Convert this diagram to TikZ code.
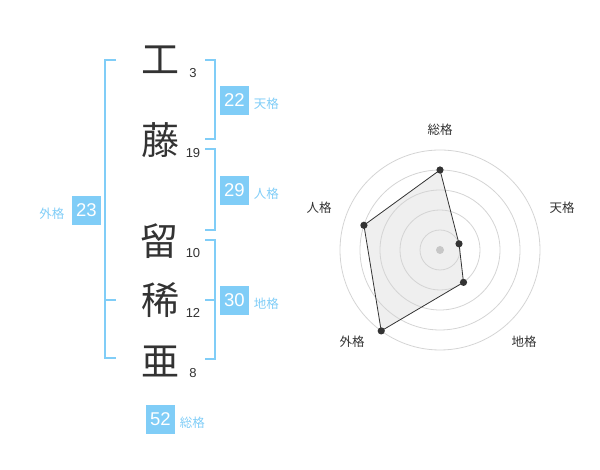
\documentclass[tikz,border=0pt]{standalone}
\usepackage{fontspec}
\setmainfont{Liberation Sans}
\newfontfamily\jp{Noto Sans CJK JP}
\usetikzlibrary{calc}
\definecolor{kakublue}{HTML}{80CDF7}
\definecolor{inkgray}{HTML}{333333}
\definecolor{ringgray}{HTML}{D4D4D4}
\definecolor{areagray}{HTML}{EFEFEF}
\def\kanji#1(#2)#3{\node[text=inkgray, inner sep=0, font=\jp\fontsize{38}{38}\selectfont] (#1) at (#2) {#3};}
\def\kakusu#1(#2)#3{\node[text=inkgray, inner sep=0, font=\fontsize{13}{13}\selectfont] (#1) at (#2) {#3};}
\def\kakubox#1(#2)#3#4{\node[fill=kakublue, text=white, minimum size=29, inner sep=0, font=\fontsize{18.5}{18.5}\selectfont] (#1) at (#2) {#3};
	\node[anchor=west, text=kakublue, inner sep=0, font=\jp\fontsize{12.5}{12.5}\selectfont] (#1-label) at ($(#1.east)+(4.5,-3.5)$) {#4};}

\begin{document}
\begin{tikzpicture}[x=1pt, y=1pt]
			%%%%% START %%%%%
			\useasboundingbox (0, 0) rectangle (600, 470);
			
			\kanji{k1}(160, 410.5){工}
			\kanji{k2}(160, 329.5){藤}
			\kanji{k3}(159, 229){留}
			\kanji{k4}(160, 169.5){稀}
			\kanji{k5}(160, 109){亜}
			
			\kakusu{n1}(193, 397.2){3}
			\kakusu{n2}(193, 317.3){19}
			\kakusu{n3}(193, 217.3){10}
			\kakusu{n4}(193, 157.3){12}
			\kakusu{n5}(193, 97.3){8}
			
			\draw[line width=2, color=kakublue] (116, 410) -- (105, 410) -- (105, 112) -- (116, 112);
			\draw[line width=2, color=kakublue] (105, 170) -- (116, 170);
			
			\draw[line width=2, color=kakublue] (205, 410) -- (215, 410) -- (215, 330.7) -- (205, 330.7);
			\draw[line width=2, color=kakublue] (205, 321) -- (215, 321) -- (215, 240) -- (205, 240);
			\draw[line width=2, color=kakublue] (205, 230) -- (215, 230) -- (215, 111) -- (205, 111);
			\draw[line width=2, color=kakublue] (205, 170) -- (215, 170);
			
			\kakubox{ten}(234.5, 369.5){22}{天格}
			\kakubox{jin}(234.5, 279.5){29}{人格}
			\kakubox{chi}(234.5, 169.5){30}{地格}
			\kakubox{sou}(160.5, 50.5){52}{総格}
			\node[fill=kakublue, text=white, minimum size=29, inner sep=0, font=\fontsize{18.5}{18.5}\selectfont] (gai) at (86.3, 259.5) {23};
			\node[anchor=east, text=kakublue, inner sep=0, font=\jp\fontsize{12.5}{12.5}\selectfont] (gai-label) at ($(gai.west)+(-7,-3)$) {外格};
			
			%%%%% RADAR %%%%%
			\coordinate (c) at (440, 220);
			\coordinate (p-sou) at ($(c)+(90:80)$);
			\coordinate (p-ten) at ($(c)+(18:20)$);
			\coordinate (p-chi) at ($(c)+(-54:40)$);
			\coordinate (p-gai) at ($(c)+(-126:100)$);
			\coordinate (p-jin) at ($(c)+(162:80)$);
			
			\fill[areagray] (p-sou) -- (p-ten) -- (p-chi) -- (p-gai) -- (p-jin) -- cycle;
			\foreach \r in {20, 40, ..., 100}
				\draw[line width=0.8, color=ringgray] (c) circle (\r);
			\fill[color=black!22] (c) circle (4);
			\draw[line width=0.8, color=inkgray] (p-sou) -- (p-ten) -- (p-chi) -- (p-gai) -- (p-jin) -- cycle;
			\foreach \p in {sou, ten, chi, gai, jin}
				\fill[color=inkgray] (p-\p) circle (3.6);
			
			\node[text=inkgray, font=\jp\fontsize{12.5}{12.5}\selectfont] (l-sou) at ($(c)+(0, 120)$) {総格};
			\node[text=inkgray, font=\jp\fontsize{12.5}{12.5}\selectfont] (l-ten) at ($(c)+(122, 42)$) {天格};
			\node[text=inkgray, font=\jp\fontsize{12.5}{12.5}\selectfont] (l-chi) at ($(c)+(84, -92)$) {地格};
			\node[text=inkgray, font=\jp\fontsize{12.5}{12.5}\selectfont] (l-gai) at ($(c)+(-88, -92)$) {外格};
			\node[text=inkgray, font=\jp\fontsize{12.5}{12.5}\selectfont] (l-jin) at ($(c)+(-121, 42)$) {人格};
			%%%%% END %%%%%
		\end{tikzpicture}
\end{document}
